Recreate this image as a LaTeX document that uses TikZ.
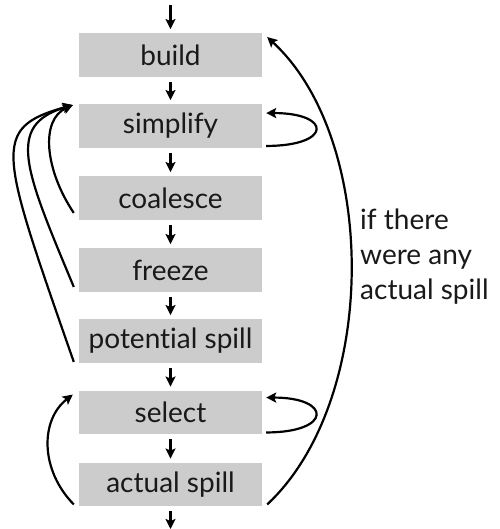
\documentclass[tikz,border=0pt]{standalone}
\usepackage{fontspec}
\setmainfont{Lato}[Ligatures={NoCommon}]
\usetikzlibrary{arrows.meta,calc}
\begin{document}
\begin{tikzpicture}[x=1pt,y=-1pt,
  stage/.style={fill=black!20,minimum width=183pt,minimum height=43.5pt,inner sep=0pt,font=\fontsize{28}{34}\selectfont,text=black!90},
  flow/.style={line width=2.2pt,-{Stealth[length=10pt,width=10pt,inset=2pt]}},
  note/.style={font=\fontsize{28}{35}\selectfont,align=left,anchor=west,text=black!90,inner sep=0pt}]
\useasboundingbox (0,0) rectangle (499,529);
\node[stage] (build) at (170.5,55) {build};
\node[stage] (simplify) at (170.5,126) {simplify};
\node[stage] (coalesce) at (170.5,198) {coalesce};
\node[stage] (freeze) at (170.5,270) {freeze};
\node[stage] (potential) at (170.5,341) {potential spill};
\node[stage] (select) at (170.5,412.5) {select};
\node[stage] (actual) at (170.5,484.5) {actual spill};
\coordinate (in) at (170.5,5);
\coordinate (out) at (170.5,529);
\node[note] (cond) at (360,257) {if there\\were any\\actual spill};
% down arrows
\draw[flow,shorten >=4pt] (in) -- (build);
\foreach \a/\b in {build/simplify,simplify/coalesce,coalesce/freeze,freeze/potential,potential/select,select/actual}
  \draw[flow,shorten <=5pt,shorten >=4pt] (\a) -- (\b);
\draw[flow,shorten <=5pt] (actual) -- (out);
% self loops
\draw[flow] ($(simplify.south east)+(4,-2)$) .. controls +(66,0) and +(66,0) .. ($(simplify.north east)+(4,9)$);
\draw[flow] ($(select.south east)+(4,-2)$) .. controls +(66,0) and +(66,0) .. ($(select.north east)+(4,7)$);
% big return
\draw[flow] ($(actual.south east)+(5,-2)$) .. controls (379,400) and (379,140) .. ($(build.north east)+(5,4)$);
% left returns
\coordinate (st) at ($(simplify.north west)+(-6,1)$);
\draw[flow] ($(coalesce.south west)+(-5,-7)$) .. controls (45,170) and (40,120) .. (st);
\draw[flow] ($(freeze.south west)+(-5,-5)$) .. controls (25,170) and (5,125) .. (st);
\draw[flow] ($(potential.south west)+(-5,-1)$) .. controls (0,150) and (-10,128) .. (st);
\draw[flow] ($(actual.south west)+(-5,-2)$) .. controls (40,470) and (40,420) .. ($(select.north west)+(-6,4)$);
\end{tikzpicture}
\end{document}
